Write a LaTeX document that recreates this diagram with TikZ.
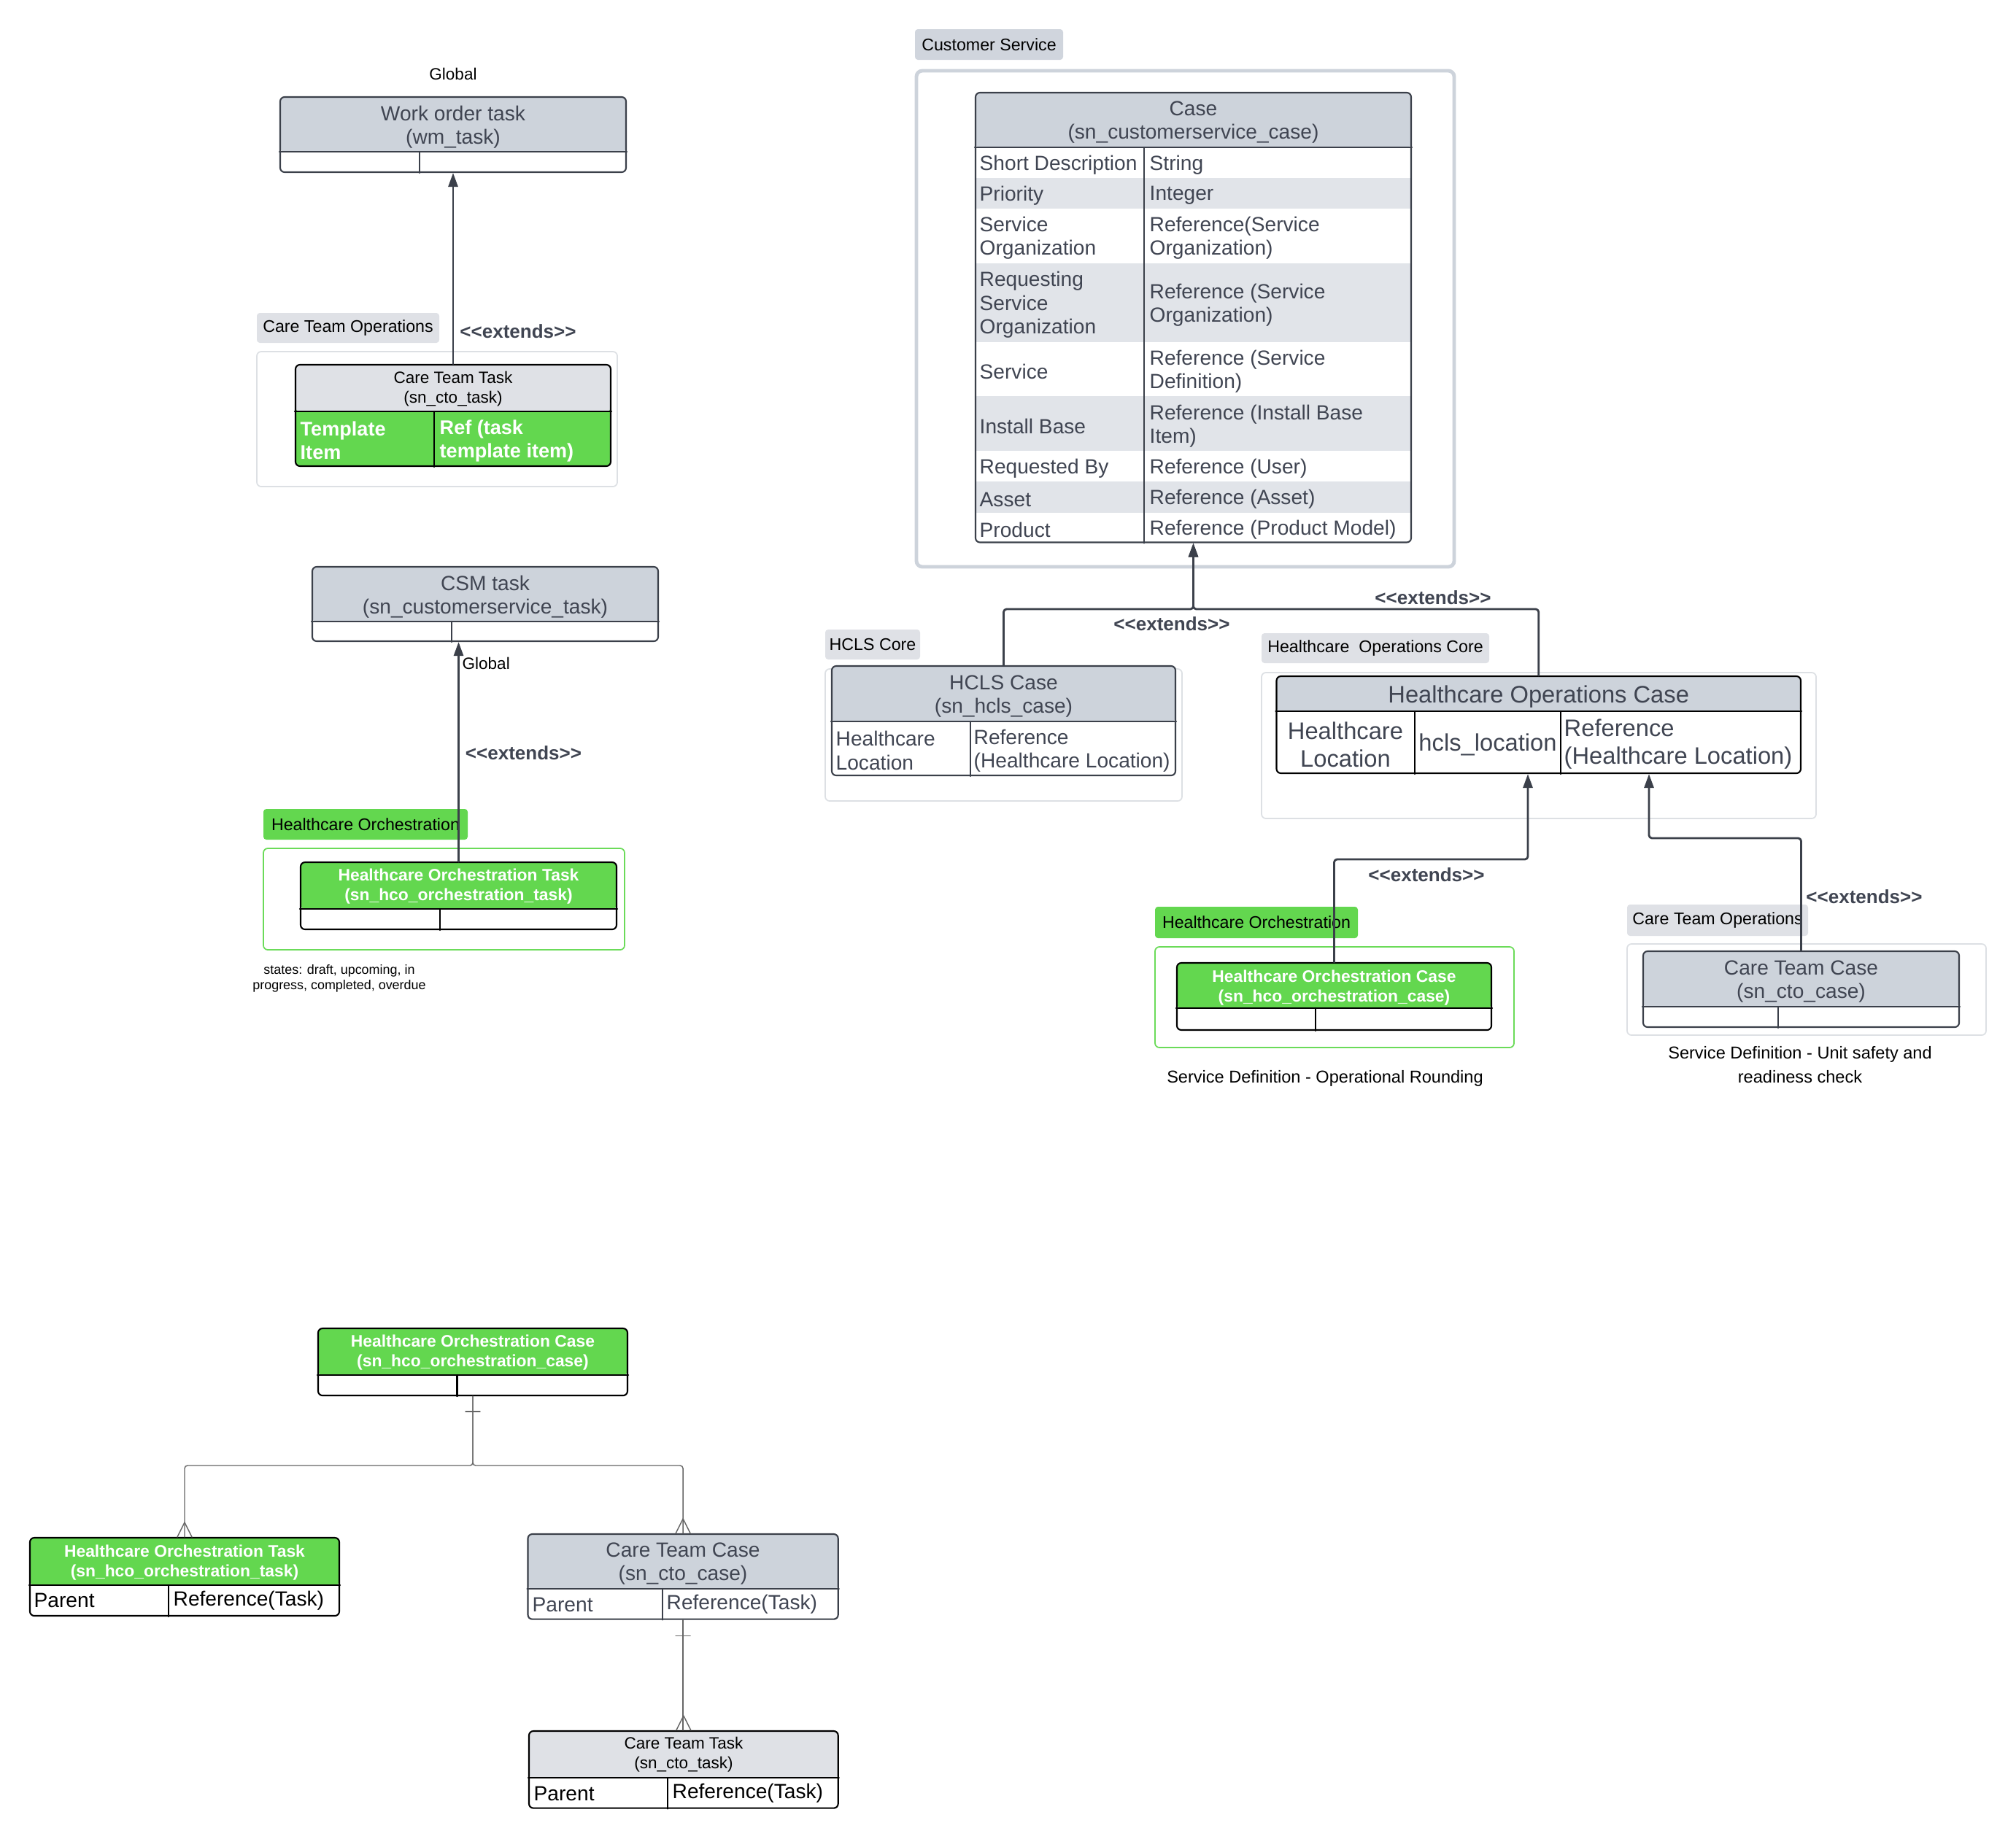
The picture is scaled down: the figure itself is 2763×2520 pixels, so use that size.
\documentclass[tikz,border=0pt]{standalone}
\usepackage{fontspec}
\setmainfont{Liberation Sans}
\usetikzlibrary{arrows.meta,fit}
\definecolor{hdrgray}{HTML}{CDD3DB}
\definecolor{lightgray}{HTML}{DFE1E6}
\definecolor{rowgray}{HTML}{E1E4E9}
\definecolor{csgray}{HTML}{D0D5DD}
\definecolor{hcogreen}{HTML}{63D74F}
\definecolor{boxgreen}{HTML}{6BDB59}
\definecolor{faint}{HTML}{DDE0E4}
\definecolor{ink}{HTML}{3B404A}
\definecolor{hdtxt}{HTML}{404552}
\newcommand{\extends}{<\kern0pt<extends>\kern0pt>}

\begin{document}
\begin{tikzpicture}[x=0.01cm, y=-0.01cm, line cap=round, line join=round,
  tbl/.style={draw=ink, line width=0.6pt, rounded corners=0.06cm, inner sep=0pt},
  tblk/.style={tbl, draw=black},
  head/.style 2 args={path picture={\fill[#1] (path picture bounding box.north west) rectangle ([yshift=-#2]path picture bounding box.north east);}},
  rule/.style={draw=ink, line width=0.6pt},
  hd/.style={align=center, text=hdtxt, yshift=-0.03cm, font=\fontsize{8}{9.1}\selectfont},
  hdw/.style={align=center, text=white, font=\bfseries\fontsize{6.5}{7.7}\selectfont},
  hdk/.style={align=center, text=black, font=\fontsize{6.4}{7.7}\selectfont},
  cell/.style={anchor=west, align=left, inner sep=0pt, text=#1, font=\fontsize{8}{9.2}\selectfont},
  cell/.default=hdtxt,
  tag/.style={fill=lightgray, rounded corners=0.04cm, inner sep=0pt, label={[inner sep=0pt, font=\fontsize{6.6}{8}\selectfont]center:#1}},
  group/.style={draw=faint, line width=0.5pt, rounded corners=0.06cm, inner sep=0pt},
  ext/.style={draw=ink, line width=0.8pt, -{Triangle[length=0.19cm, width=0.13cm]}, rounded corners=0.04cm},
  extlbl/.style={text=hdtxt, font=\bfseries\fontsize{7.4}{9}\selectfont},
  note/.style={align=center, font=\fontsize{6.7}{9.4}\selectfont},
  er/.style={draw=black!60, line width=0.4pt}]
  \useasboundingbox (0,0) rectangle (2763,2520);

  % ---------- groups and tags ----------
  \node[group, fit={(352,482)(846,667)}] (ctogrp) {};
  \node[tag={Care Team Operations}, fit={(352,429)(602,470)}] (ctotag) {};
  \node[group, draw=boxgreen, fit={(361,1163)(856,1302)}] (hcogrp) {};
  \node[tag={Healthcare Orchestration}, fill=hcogreen, fit={(361,1109)(641,1151)}] (hcotag) {};
  \node[group, draw=hdrgray, line width=1.4pt, rounded corners=0.08cm, fit={(1256,97)(1993,777)}] (csgrp) {};
  \node[tag={Customer Service}, fill=csgray, fit={(1254,40)(1457,82)}] (cstag) {};
  \node[group, fit={(1131,917)(1620,1098)}] (hclsgrp) {};
  \node[tag={HCLS Core}, fit={(1131,863)(1261,904)}] (hclstag) {};
  \node[group, fit={(1729,922)(2489,1122)}] (hocgrp) {};
  \node[tag={Healthcare\ \ Operations Core}, fit={(1729,868)(2041,909)}] (hoctag) {};
  \node[group, draw=boxgreen, fit={(1583,1298)(2075,1436)}] (horcgrp) {};
  \node[tag={Healthcare Orchestration}, fill=hcogreen, fit={(1583,1243)(1861,1286)}] (horctag) {};
  \node[group, fit={(2230,1294)(2722,1419)}] (ctcgrp) {};
  \node[tag={Care Team Operations}, fit={(2230,1240)(2478,1283)}] (ctctag) {};

  % ---------- work order task ----------
  \node[tbl, head={hdrgray}{0.75cm}, fit={(384,133)(858,236)}] (wo) {};
  \draw[rule] (wo.west |- 0,208) -- (wo.east |- 0,208);
  \draw[rule] (575,208) -- (575,208 |- wo.south);
  \node[hd] (wotitle) at (621,171) {Work order task\\(wm\_task)};
  \node[font=\fontsize{6.4}{8}\selectfont] (global1) at (621,101) {Global};

  % ---------- care team task ----------
  \node[tblk, fill=hcogreen, head={lightgray}{0.64cm}, fit={(405,500)(837,639)}] (ctt) {};
  \draw[rule, draw=black] (ctt.west |- 0,564) -- (ctt.east |- 0,564);
  \draw[rule, draw=black] (595,564) -- (595,564 |- ctt.south);
  \node[hdk] (ctttitle) at (621,533) {Care Team Task\\(sn\_cto\_task)};
  \node[cell=white, font=\bfseries\fontsize{7.7}{9.1}\selectfont] (ctta) at (411,604) {Template\\Item};
  \node[cell=white, font=\bfseries\fontsize{7.7}{9.1}\selectfont] (cttb) at (602,604) {Ref (task\\template item)};

  % ---------- csm task ----------
  \node[tbl, head={hdrgray}{0.75cm}, fit={(428,777)(902,879)}] (csm) {};
  \draw[rule] (csm.west |- 0,852) -- (csm.east |- 0,852);
  \draw[rule] (619,852) -- (619,852 |- csm.south);
  \node[hd] (csmtitle) at (665,815) {CSM task\\(sn\_customerservice\_task)};
  \node[anchor=west, inner sep=0pt, font=\fontsize{6.4}{8}\selectfont] (global2) at (633,909) {Global};

  % ---------- orchestration task ----------
  \node[tblk, head={hcogreen}{0.64cm}, fit={(412,1182)(845,1274)}] (hcot) {};
  \draw[rule, draw=black] (hcot.west |- 0,1246) -- (hcot.east |- 0,1246);
  \draw[rule, draw=black] (603,1246) -- (603,1246 |- hcot.south);
  \node[hdw] (hcottitle) at (628.5,1215) {Healthcare Orchestration Task\\(sn\_hco\_orchestration\_task)};
  \node[align=center, font=\fontsize{5.1}{6}\selectfont] (states) at (465,1341.5) {states: draft, upcoming, in\\progress, completed, overdue};

  % ---------- case ----------
  \fill[rowgray] (1338,244) rectangle (1933,286);
  \fill[rowgray] (1338,361) rectangle (1933,469);
  \fill[rowgray] (1338,543) rectangle (1933,618);
  \fill[rowgray] (1338,660) rectangle (1933,703);
  \node[tbl, head={hdrgray}{0.75cm}, fit={(1337,127)(1934,743.5)}] (case) {};
  \draw[rule] (case.west |- 0,202) -- (case.east |- 0,202);
  \draw[rule] (1568,202) -- (1568,202 |- case.south);
  \node[hd] (casetitle) at (1635.5,165) {Case\\(sn\_customerservice\_case)};
  \node[cell] (r1a) at (1342,226) {Short Description};
  \node[cell] (r1b) at (1575,226) {String};
  \node[cell] (r2a) at (1342,268) {Priority};
  \node[cell] (r2b) at (1575,268) {Integer};
  \node[cell] (r3a) at (1342,326) {Service\\Organization};
  \node[cell] (r3b) at (1575,326) {Reference(Service\\Organization)};
  \node[cell] (r4a) at (1342,418) {Requesting\\Service\\Organization};
  \node[cell] (r4b) at (1575,418) {Reference (Service\\Organization)};
  \node[cell] (r5a) at (1342,509) {Service};
  \node[cell] (r5b) at (1575,509) {Reference (Service\\Definition)};
  \node[cell] (r6a) at (1342,584) {Install Base};
  \node[cell] (r6b) at (1575,584) {Reference (Install Base\\Item)};
  \node[cell] (r7a) at (1342,642) {Requested By};
  \node[cell] (r7b) at (1575,642) {Reference (User)};
  \node[cell] (r8a) at (1342,684.5) {Asset};
  \node[cell] (r8b) at (1575,684.5) {Reference (Asset)};
  \node[cell] (r9a) at (1342,726) {Product};
  \node[cell] (r9b) at (1575,726) {Reference (Product Model)};

  % ---------- hcls case ----------
  \node[tbl, head={hdrgray}{0.76cm}, fit={(1140,913)(1611,1063)}] (hcls) {};
  \draw[rule] (hcls.west |- 0,989) -- (hcls.east |- 0,989);
  \draw[rule] (1330,989) -- (1330,989 |- hcls.south);
  \node[hd] (hclstitle) at (1375.5,952) {HCLS Case\\(sn\_hcls\_case)};
  \node[cell] (hclsa) at (1145,1029) {Healthcare\\Location};
  \node[cell] (hclsb) at (1334,1029) {Reference\\(Healthcare Location)};

  % ---------- healthcare operations case ----------
  \node[tblk, head={hdrgray}{0.48cm}, fit={(1749.5,927)(2468,1060)}] (hoc) {};
  \draw[rule, draw=black] (hoc.west |- 0,975) -- (hoc.east |- 0,975);
  \draw[rule, draw=black] (1939,975) -- (1939,975 |- hoc.south);
  \draw[rule, draw=black] (2139,975) -- (2139,975 |- hoc.south);
  \node[hd, font=\fontsize{9.3}{10.8}\selectfont] (hoctitle) at (2108.7,952) {Healthcare Operations Case};
  \node[hd, font=\fontsize{9.3}{10.8}\selectfont] (hoca) at (1844,1017.5) {Healthcare\\Location};
  \node[hd, font=\fontsize{9.3}{10.8}\selectfont] (hocb) at (2039,1018) {hcls\_location};
  \node[cell, font=\fontsize{9.3}{10.8}\selectfont] (hocc) at (2143,1020) {Reference\\(Healthcare Location)};

  % ---------- orchestration case ----------
  \node[tblk, head={hcogreen}{0.62cm}, fit={(1613,1320)(2044,1412)}] (horc) {};
  \draw[rule, draw=black] (horc.west |- 0,1382) -- (horc.east |- 0,1382);
  \draw[rule, draw=black] (1803,1382) -- (1803,1382 |- horc.south);
  \node[hdw] (horctitle) at (1828.5,1354.5) {Healthcare Orchestration Case\\(sn\_hco\_orchestration\_case)};
  \node[note] (horcnote) at (1816,1478) {Service Definition - Operational Rounding};

  % ---------- care team case ----------
  \node[tbl, head={hdrgray}{0.76cm}, fit={(2252,1304)(2685,1408)}] (ctc) {};
  \draw[rule] (ctc.west |- 0,1380) -- (ctc.east |- 0,1380);
  \draw[rule] (2437,1380) -- (2437,1380 |- ctc.south);
  \node[hd] (ctctitle) at (2468.5,1343) {Care Team Case\\(sn\_cto\_case)};
  \node[note] (ctcnote) at (2467,1460) {Service Definition - Unit safety and\\readiness check};

  % ---------- extends arrows ----------
  \draw[ext] (ctt.north) -- (wo.south);
  \draw[ext] (hcot.north) -- (hcot.north |- csm.south);
  \draw[ext] (hcls.north) |- (1635.5,835) -- (case.south);
  \draw[ext] (hoc.north) |- (1635.5,835) -- (case.south);
  \draw[ext] (horc.north) |- (2094,1178) -- (2094,1178 |- hoc.south);
  \draw[ext] (ctc.north) |- (2260,1149) -- (2260,1149 |- hoc.south);
  \node[extlbl] (ext1) at (710,454) {\extends};
  \node[extlbl] (ext2) at (717.5,1032) {\extends};
  \node[extlbl] (ext3) at (1964,819) {\extends};
  \node[extlbl] (ext4) at (1606,855) {\extends};
  \node[extlbl] (ext5) at (1955,1199) {\extends};
  \node[extlbl] (ext6) at (2555,1229) {\extends};

  % ---------- entity relationship ----------
  \node[tblk, head={hcogreen}{0.64cm}, fit={(436,1821)(860,1913)}] (horc2) {};
  \draw[rule, draw=black] (horc2.west |- 0,1885) -- (horc2.east |- 0,1885);
  \draw[rule, draw=black] (626.5,1885) -- (626.5,1885 |- horc2.south);
  \node[hdw] (horc2title) at (648,1854.5) {Healthcare Orchestration Case\\(sn\_hco\_orchestration\_case)};

  \node[tblk, head={hcogreen}{0.65cm}, fit={(41,2108)(465,2215)}] (hcot2) {};
  \draw[rule, draw=black] (hcot2.west |- 0,2173) -- (hcot2.east |- 0,2173);
  \draw[rule, draw=black] (231,2173) -- (231,2173 |- hcot2.south);
  \node[hdw] (hcot2title) at (253,2142) {Healthcare Orchestration Task\\(sn\_hco\_orchestration\_task)};
  \node[cell=black] (hcot2a) at (46,2194) {Parent};
  \node[cell=black] (hcot2b) at (237,2194) {Reference(Task)};

  \node[tbl, head={hdrgray}{0.75cm}, fit={(723.5,2103)(1148.7,2219.6)}] (ctc2) {};
  \draw[rule] (ctc2.west |- 0,2178) -- (ctc2.east |- 0,2178);
  \draw[rule] (908,2178) -- (908,2178 |- ctc2.south);
  \node[hd] (ctc2title) at (936,2141) {Care Team Case\\(sn\_cto\_case)};
  \node[cell] (ctc2a) at (729,2199.5) {Parent};
  \node[cell] (ctc2b) at (913,2199.5) {Reference(Task)};

  \node[tblk, head={lightgray}{0.64cm}, fit={(725,2373)(1148.7,2478.6)}] (ctt2) {};
  \draw[rule, draw=black] (ctt2.west |- 0,2437) -- (ctt2.east |- 0,2437);
  \draw[rule, draw=black] (915,2437) -- (915,2437 |- ctt2.south);
  \node[hdk] (ctt2title) at (937,2405.5) {Care Team Task\\(sn\_cto\_task)};
  \node[cell=black] (ctt2a) at (731,2458.5) {Parent};
  \node[cell=black] (ctt2b) at (921,2458.5) {Reference(Task)};

  % one-to-many links
  \draw[er, rounded corners=0.04cm] (horc2.south) -- (648,2009) -| (hcot2.north);
  \draw[er, rounded corners=0.04cm] (horc2.south) -- (648,2009) -| (ctc2.north);
  \draw[er] (ctc2.south) -- (ctc2.south |- ctt2.north);
  \draw[er] ([xshift=-0.1cm, yshift=-0.21cm]horc2.south) -- ++(20,0);
  \draw[er] ([xshift=-0.1cm, yshift=-0.22cm]ctc2.south) -- ++(20,0);
  \draw[er] ([xshift=-0.1cm]hcot2.north) -- ([yshift=0.2cm]hcot2.north) -- ([xshift=0.1cm]hcot2.north);
  \draw[er] ([xshift=-0.1cm]ctc2.north) -- ([yshift=0.2cm]ctc2.north) -- ([xshift=0.1cm]ctc2.north);
  \draw[er] ([xshift=-0.1cm]ctt2.north) -- ([yshift=0.2cm]ctt2.north) -- ([xshift=0.1cm]ctt2.north);
\end{tikzpicture}
\end{document}
